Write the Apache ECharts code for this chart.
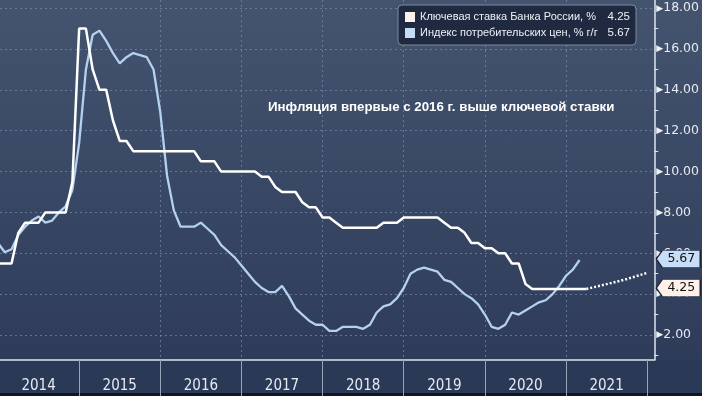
<!DOCTYPE html>
<html><head><meta charset="utf-8">
<script src="https://cdn.jsdelivr.net/npm/echarts@6/dist/echarts.min.js"></script>
<style>
html,body{margin:0;padding:0;}
#c{width:702px;height:396px;background:linear-gradient(to bottom,#44546f 0px,#2e3c59 360px,#2a3956 360px,#2a3956 393px,#10151f 393px,#10151f 396px);}
</style>
</head><body><div id="c"></div>
<script>
// x = month index: 0 = end of Dec 2013, k = end of k-th month from Jan 2014
const years = ['2014','2015','2016','2017','2018','2019','2020','2021'];
const seriesNames = ['Ключевая ставка Банка России, %', 'Индекс потребительских цен, % г/г'];
const lastValues = ['4.25', '5.67'];
const note = 'Инфляция впервые с 2016 г. выше ключевой ставки';
const yMinorTicks = [1,3,5,7,9,11,13,15,17];

const keyRate = [5.5,
  5.5,5.5,7,7.5,7.5,7.5,8,8,8,8,9.5,17,
  17,15,14,14,12.5,11.5,11.5,11,11,11,11,11,
  11,11,11,11,11,10.5,10.5,10.5,10,10,10,10,
  10,10,9.75,9.75,9.25,9,9,9,8.5,8.25,8.25,7.75,
  7.75,7.5,7.25,7.25,7.25,7.25,7.25,7.25,7.5,7.5,7.5,7.75,
  7.75,7.75,7.75,7.75,7.75,7.5,7.25,7.25,7,6.5,6.5,6.25,
  6.25,6,6,5.5,5.5,4.5,4.25,4.25,4.25,4.25,4.25,4.25,
  4.25,4.25,4.25];
const cpi = [6.5,
  6.05,6.2,6.9,7.3,7.6,7.8,7.5,7.6,8.0,8.3,9.1,11.4,
  15.0,16.7,16.9,16.4,15.8,15.3,15.6,15.8,15.7,15.6,15.0,12.9,
  9.8,8.1,7.3,7.3,7.3,7.5,7.2,6.9,6.4,6.1,5.8,5.4,
  5.0,4.6,4.3,4.1,4.1,4.4,3.9,3.3,3.0,2.7,2.5,2.5,
  2.2,2.2,2.4,2.4,2.4,2.3,2.5,3.1,3.4,3.5,3.8,4.3,
  5.0,5.2,5.3,5.2,5.1,4.7,4.6,4.3,4.0,3.8,3.5,3.0,
  2.4,2.3,2.5,3.1,3.0,3.2,3.4,3.6,3.7,4.0,4.4,4.9,
  5.2,5.67];
const forecastStart = 87;
const forecast = [4.25,4.33,4.41,4.49,4.57,4.65,4.74,4.84,4.94,5.04];

const xMin = 0.295, xMax = 97.05, yMin = 0.775, yMax = 18.4;
const yearTicks = years.map((y,i)=>12*(i+1));
const yearLabelPos = years.map((y,i)=>6+12*i);

const chart = echarts.init(document.getElementById('c'), null, {renderer:'canvas'});
const tag = (val, bg) => ({
  coord: [xMax, parseFloat(val)], value: val,
  symbol: 'path://M0,8.5 L6,0 L44,0 L44,17 L6,17 Z',
  symbolSize: [44, 17], symbolKeepAspect: false, symbolOffset: [24, -1],
  itemStyle: {color: bg, borderColor: '#1c2436', borderWidth: 1},
  label: {show: true, position: 'inside', offset: [3, 0], formatter: val, color: '#111', fontSize: 12.5, fontFamily: 'DejaVu Sans'}
});
const grid = 'rgba(120,140,175,0.7)';
chart.setOption({
  animation: false,
  backgroundColor: 'transparent',
  grid: {left: 0, right: 47, top: 0, bottom: 36, containLabel: false},
  legend: {
    data: seriesNames, orient: 'vertical', left: 398, top: 5,
    backgroundColor: '#1f2940', borderColor: '#7e889b', borderWidth: 1, borderRadius: 4,
    padding: [6, 6, 6, 7], itemGap: 4, itemWidth: 10, itemHeight: 10, icon: 'rect',
    selectedMode: false,
    formatter: n => '{n|' + n + '}{v|' + lastValues[seriesNames.indexOf(n)] + '}',
    textStyle: {color: '#eef1f6', fontSize: 11, fontFamily: 'Liberation Sans',
      rich: {n: {width: 188, align: 'left', color: '#eef1f6', fontSize: 11, fontFamily: 'Liberation Sans'},
             v: {width: 22, align: 'right', color: '#eef1f6', fontSize: 11.5, fontFamily: 'Liberation Sans'}}}
  },
  xAxis: {
    type: 'value', min: xMin, max: xMax, splitNumber: 8, minInterval: 12, maxInterval: 12,
    axisLine: {show: true, lineStyle: {color: '#dfe4ec', width: 1.5}},
    axisTick: {show: true, customValues: yearTicks, length: 36, lineStyle: {color: '#98a3b6', width: 1}},
    axisLabel: {show: true, customValues: yearLabelPos, margin: 19,
      formatter: v => years[Math.round((v-6)/12)] || '',
      color: '#e6eaf0', fontSize: 15, fontFamily: '"Liberation Sans Narrow", "DejaVu Sans Condensed", sans-serif'},
    splitLine: {show: true, showMinLine: false, showMaxLine: false, lineStyle: {color: grid, type: [2, 3], width: 1}}
  },
  yAxis: [{
    type: 'value', position: 'right', min: yMin, max: yMax, splitNumber: 8, minInterval: 2, maxInterval: 2,
    axisLine: {show: true, lineStyle: {color: '#dfe4ec', width: 1.5}},
    axisTick: {show: false},
    axisLabel: {show: true, margin: 2, showMinLabel: false, showMaxLabel: false,
      formatter: v => (Math.abs(v/2 - Math.round(v/2)) < 1e-6 && v >= 2 && v <= 18) ? '{t|▶}' + v.toFixed(2) : '',
      color: '#e6eaf0', fontSize: 12.5, fontFamily: 'DejaVu Sans',
      rich: {t: {fontSize: 9, color: '#eef1f6', padding: [0, 0, 0, 0]}}},
    splitLine: {show: true, showMinLine: false, showMaxLine: false, lineStyle: {color: grid, type: [2, 3], width: 1}}
  }, {
    type: 'value', position: 'right', min: yMin, max: yMax, splitNumber: 8, minInterval: 2, maxInterval: 2,
    axisLine: {show: false},
    axisTick: {show: true, customValues: yMinorTicks, length: 4, lineStyle: {color: '#dfe4ec', width: 1}},
    axisLabel: {show: false},
    splitLine: {show: false}
  }],
  series: [
    {name: seriesNames[0], type: 'line', data: keyRate.map((v,i)=>[i,v]), showSymbol: false, symbol: 'none', clip: false,
     lineStyle: {color: '#ffffff', width: 2.5}, itemStyle: {color: '#fdf0ea'}, z: 4,
     markPoint: {data: [tag(lastValues[0], '#fff1e8')], z: 10}},
    {name: seriesNames[1], type: 'line', data: cpi.map((v,i)=>[i,v]), showSymbol: false, symbol: 'none', clip: false,
     lineStyle: {color: '#b4d1f0', width: 2.3}, itemStyle: {color: '#c6dcf6'}, z: 3,
     markPoint: {data: [tag(lastValues[1], '#c8def8')], z: 10}},
    {name: 'forecast', type: 'line', data: forecast.map((v,i)=>[forecastStart+i,v]), showSymbol: false, symbol: 'none', clip: false,
     lineStyle: {color: '#ffffff', width: 2.5, type: [2, 2]}, z: 4}
  ],
  graphic: [{type: 'text', left: 268, top: 101, z: 20,
    style: {text: note, fill: '#ffffff', font: 'bold 13.3px "Liberation Sans", Arial, sans-serif'}}]
});
</script>
</body></html>
